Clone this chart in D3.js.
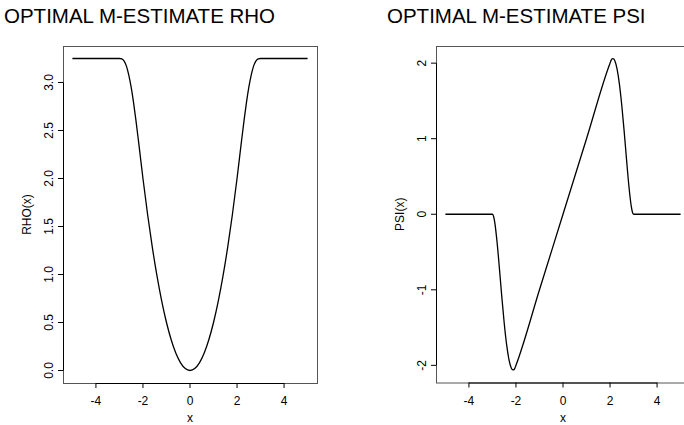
<!DOCTYPE html>
<html>
<head>
<meta charset="utf-8">
<script src="https://cdn.jsdelivr.net/npm/d3@7/dist/d3.min.js"></script>
<style>
  body { margin: 0; background: #fff; }
  text { font-family: "Liberation Sans", Arial, sans-serif; fill: #000; }
</style>
</head>
<body>
<div id="chart"></div>
<script>
// values
const rhoX = [-5, -4, -3, -2.9, -2.8, -2.7, -2.6, -2.5, -2.4, -2.3, -2.2, -2.1, -2.0,
  -1.8, -1.6, -1.4, -1.2, -1.0, -0.8, -0.6, -0.4, -0.2, 0,
  0.2, 0.4, 0.6, 0.8, 1.0, 1.2, 1.4, 1.6, 1.8,
  2.0, 2.1, 2.2, 2.3, 2.4, 2.5, 2.6, 2.7, 2.8, 2.9, 3, 4, 5];
const rhoY = [3.25, 3.25, 3.25, 3.245, 3.223, 3.168, 3.075, 2.948, 2.79, 2.608, 2.41, 2.205, 2.0,
  1.62, 1.28, 0.98, 0.72, 0.5, 0.32, 0.18, 0.08, 0.02, 0,
  0.02, 0.08, 0.18, 0.32, 0.5, 0.72, 0.98, 1.28, 1.62,
  2.0, 2.205, 2.41, 2.608, 2.79, 2.948, 3.075, 3.168, 3.223, 3.245, 3.25, 3.25, 3.25];

const psiX = [-5, -4, -3, -2.95, -2.9, -2.8, -2.7, -2.6, -2.5, -2.4, -2.3, -2.2, -2.15, -2.1, -2.05, -2.0,
  -1, 0, 1,
  2.0, 2.05, 2.1, 2.15, 2.2, 2.3, 2.4, 2.5, 2.6, 2.7, 2.8, 2.9, 2.95, 3, 4, 5];
const psiY = [0, 0, 0, -0.03, -0.11, -0.38, -0.73, -1.1, -1.44, -1.72, -1.92, -2.035, -2.058, -2.06, -2.04, -2.0,
  -1, 0, 1,
  2.0, 2.04, 2.06, 2.058, 2.035, 1.92, 1.72, 1.44, 1.1, 0.73, 0.38, 0.11, 0.03, 0, 0, 0];

const xTicks = [-4, -2, 0, 2, 4];
const rhoTicks = [0, 0.5, 1, 1.5, 2, 2.5, 3];
const psiTicks = [-2, -1, 0, 1, 2];

const svg = d3.select('#chart').append('svg')
  .attr('width', 684)
  .attr('height', 425);

function drawPanel(p) {
  const x = d3.scaleLinear().domain([-5.4, 5.4]).range([p.left, p.left + 254]);
  const y = d3.scaleLinear().domain(p.yDomain).range([p.bottom, p.top]);

  svg.append('text')
    .attr('x', p.titleX).attr('y', 23)
    .style('font-size', '20.5px')
    .text(p.title);

  // plot box
  svg.append('rect')
    .attr('x', p.left + 0.5).attr('y', p.top + 0.5)
    .attr('width', 254).attr('height', p.bottom - p.top)
    .attr('fill', 'none').attr('stroke', '#555').attr('stroke-width', 1);

  // x axis, R style: line only from first to last tick
  svg.append('line')
    .attr('x1', x(xTicks[0])).attr('x2', x(xTicks[xTicks.length - 1]))
    .attr('y1', p.bottom + 0.5).attr('y2', p.bottom + 0.5)
    .attr('stroke', '#000');
  svg.selectAll(null).data(xTicks).enter().append('line')
    .attr('x1', d => x(d)).attr('x2', d => x(d))
    .attr('y1', p.bottom).attr('y2', p.bottom + 5)
    .attr('stroke', '#000');
  svg.selectAll(null).data(xTicks).enter().append('text')
    .attr('x', d => x(d)).attr('y', 405)
    .attr('text-anchor', 'middle')
    .style('font-size', '12px')
    .text(d => d);
  svg.append('text')
    .attr('x', x(0)).attr('y', 422)
    .attr('text-anchor', 'middle')
    .style('font-size', '12px')
    .text('x');

  // y axis
  svg.append('line')
    .attr('x1', p.left + 0.5).attr('x2', p.left + 0.5)
    .attr('y1', y(p.yTicks[0])).attr('y2', y(p.yTicks[p.yTicks.length - 1]))
    .attr('stroke', '#000');
  svg.selectAll(null).data(p.yTicks).enter().append('line')
    .attr('x1', p.left - 5).attr('x2', p.left)
    .attr('y1', d => y(d)).attr('y2', d => y(d))
    .attr('stroke', '#000');
  svg.selectAll(null).data(p.yTicks).enter().append('text')
    .attr('transform', d => `translate(${p.left - 10},${y(d)}) rotate(-90)`)
    .attr('text-anchor', 'middle')
    .style('font-size', '12px')
    .text(p.fmt);
  svg.append('text')
    .attr('transform', `translate(${p.left - 32},${(p.top + p.bottom) / 2}) rotate(-90)`)
    .attr('text-anchor', 'middle')
    .style('font-size', '12px')
    .text(p.yLabel);

  const line = d3.line()
    .x(d => x(d[0]))
    .y(d => y(d[1]))
    .curve(d3.curveMonotoneX);

  svg.append('path')
    .datum(d3.zip(p.xs, p.ys))
    .attr('d', line)
    .attr('fill', 'none')
    .attr('stroke', '#000')
    .attr('stroke-width', 1.3);
}

drawPanel({
  title: 'OPTIMAL M-ESTIMATE RHO', titleX: 4,
  left: 63, top: 46, bottom: 383,
  yDomain: [-0.13, 3.38], yTicks: rhoTicks, fmt: d3.format('.1f'),
  yLabel: 'RHO(x)', xs: rhoX, ys: rhoY
});

drawPanel({
  title: 'OPTIMAL M-ESTIMATE PSI', titleX: 387,
  left: 436, top: 46, bottom: 382.5,
  yDomain: [-2.227, 2.227], yTicks: psiTicks, fmt: d => d,
  yLabel: 'PSI(x)', xs: psiX, ys: psiY
});
</script>
</body>
</html>
